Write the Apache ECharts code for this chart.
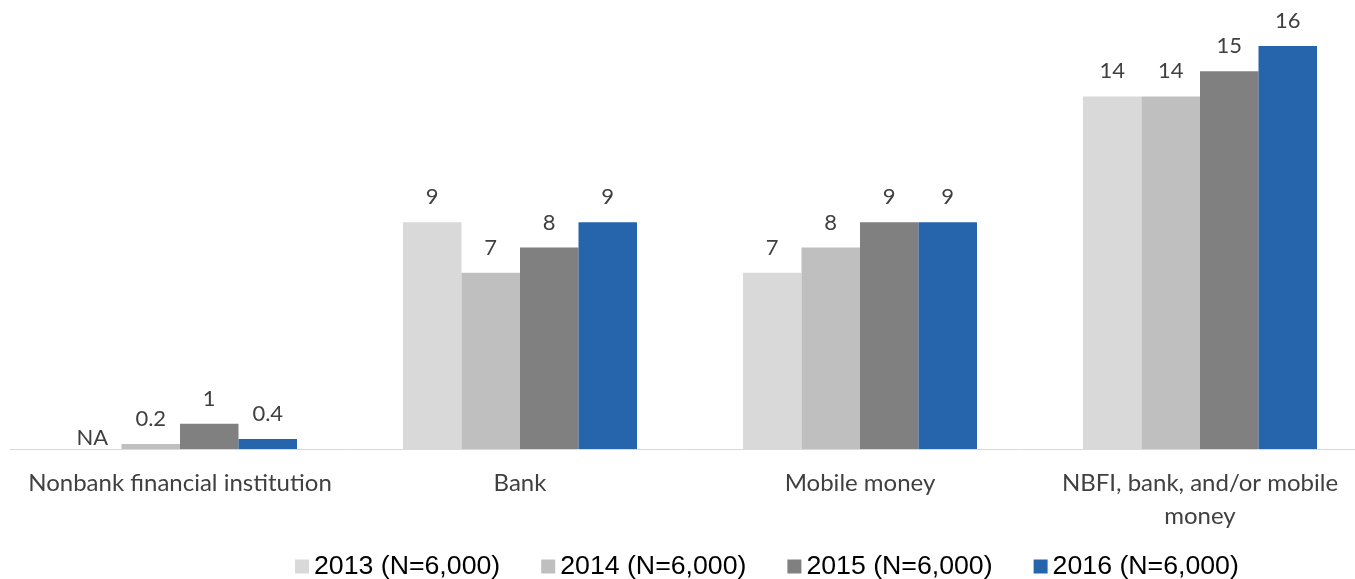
<!DOCTYPE html>
<html><head><meta charset="utf-8">
<script src="https://cdn.jsdelivr.net/npm/echarts@6/dist/echarts.min.js"></script>
<style>html,body{margin:0;padding:0;background:#fff}#c{width:1355px;height:579px}</style>
</head><body><div id="c"></div>
<script>
const categories = ["Nonbank financial institution", "Bank", "Mobile money", "NBFI, bank, and/or mobile\nmoney"];
const seriesNames = ["2013 (N=6,000)", "2014 (N=6,000)", "2015 (N=6,000)", "2016 (N=6,000)"];
const v2013 = [null, 9, 7, 14];
const v2014 = [0.2, 7, 8, 14];
const v2015 = [1, 8, 9, 15];
const v2016 = [0.4, 9, 9, 16];
const colors = ["#d9d9d9", "#bfbfbf", "#808080", "#2665ac"];

const allValues = [v2013, v2014, v2015, v2016];
const chart = echarts.init(document.getElementById('c'));
const labelFont = {fontFamily: 'Lato', fontSize: 22, color: '#404040'};
chart.setOption({
  animation: false,
  color: colors,
  grid: {left: 10, right: -15, top: 46, height: 403, outerBoundsMode: 'none', containLabel: false},
  legend: {
    bottom: -6, left: 290,
    itemWidth: 14, itemHeight: 14, itemGap: 41, icon: 'rect',
    textStyle: {fontFamily: 'Liberation Sans', fontSize: 26.7, color: '#000'},
    data: seriesNames
  },
  xAxis: {
    type: 'category', data: categories,
    axisLine: {lineStyle: {color: '#d9d9d9', width: 1}},
    axisTick: {show: false},
    axisLabel: {interval: 0, margin: 18, lineHeight: 33, fontFamily: 'Lato', fontSize: 24, color: '#404040'}
  },
  yAxis: {type: 'value', min: 0, max: 16, show: false, splitLine: {show: false}},
  series: allValues.map((vals, i) => ({
    name: seriesNames[i], type: 'bar', barWidth: 58.5, barGap: '0%',
    data: vals.map(v => v === null ? {value: 0, label: {formatter: 'NA', distance: 0}} : v),
    label: {show: true, position: 'top', distance: 14, ...labelFont}
  }))
});
</script></body></html>
